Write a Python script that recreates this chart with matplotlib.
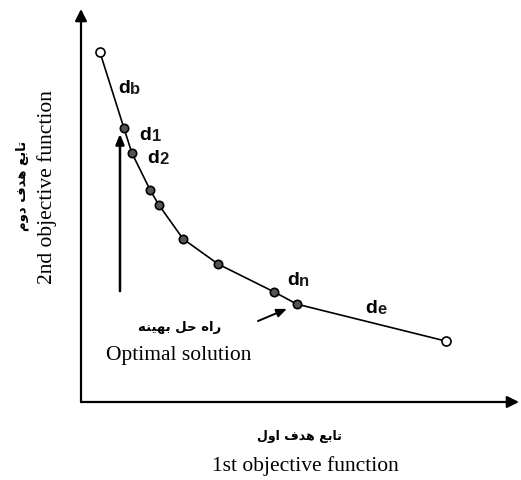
import numpy as np
import matplotlib
matplotlib.use("Agg")
import matplotlib.pyplot as plt

# pareto front points (1st objective, 2nd objective)
obj1 = [0.43, 0.98, 1.16, 1.58, 1.78, 2.33, 3.13, 4.41, 4.93, 8.33]
obj2 = [8.91, 6.97, 6.34, 5.39, 5.01, 4.15, 3.51, 2.80, 2.49, 1.55]
hollow = [0, 9]  # first and last points are open circles

# point labels: main letter, subscript, position
lab_sub = ["b", "1", "2", "n", "e"]
lab_x = [0.84, 1.34, 1.52, 4.70, 6.50]
lab_y = [7.9, 6.7, 6.1, 3.0, 2.3]

# texts
ylab_en = "2nd objective function"
xlab_en = "1st objective function"
opt_en = "Optimal solution"

# hand shaped arabic presentation forms (matplotlib does no shaping), visual order
def vis(s):
    return s[::-1]

ylab_fa_v = vis("\uFE97\uFE8E\uFE91\uFECA \uFEEB\uFEAA\uFED1 \uFEA9\uFEED\uFEE1")
xlab_fa_v = vis("\uFE97\uFE8E\uFE91\uFECA \uFEEB\uFEAA\uFED1 \uFE8D\uFEED\uFEDD")
opt_fa_v = vis("\uFEAD\uFE8D\uFEE9 \uFEA3\uFEDE \uFE91\uFEEC\uFEF4\uFEE8\uFEEA")

W, H = 521, 481
fig = plt.figure(figsize=(W/100, H/100), dpi=100)
ax = fig.add_axes([81/W, (H-403)/H, 438/W, 393/H])
ax.set_xlim(0, 10)
ax.set_ylim(0, 10)
ax.axis("off")

# axes with arrows
for tip in [(1, 0), (0, 1)]:
    ax.annotate("", xy=tip, xytext=(0, 0), xycoords="axes fraction",
                arrowprops=dict(arrowstyle="-|>,head_length=0.7,head_width=0.35", lw=1.6, color="k",
                                shrinkA=0, shrinkB=0), annotation_clip=False)

# curve
ax.plot(obj1, obj2, color="k", lw=1.2, zorder=2)
filled = [i for i in range(len(obj1)) if i not in hollow]
ax.plot([obj1[i] for i in filled], [obj2[i] for i in filled], ls="none", marker="o",
        ms=6, mfc="#555555", mec="k", mew=1.2, zorder=3)
ax.plot([obj1[i] for i in hollow], [obj2[i] for i in hollow], ls="none", marker="o",
        ms=6.5, mfc="white", mec="k", mew=1.2, zorder=3)

# labels d_x
for s, x, y in zip(lab_sub, lab_x, lab_y):
    t = ax.text(x, y, "d", fontsize=14, fontweight="bold", family="Liberation Sans",
                ha="left", va="baseline")
    ax.annotate(s, xy=(1, 0), xycoords=t, fontsize=12, fontweight="bold",
                family="Liberation Sans", ha="left", va="bottom", color="#1a1a1a")

# optimal solution arrows
ax.annotate("", xy=(0.89, 6.82), xytext=(0.89, 2.82),
            arrowprops=dict(arrowstyle="-|>,head_length=0.6,head_width=0.25", lw=1.8, color="k",
                            shrinkA=0, shrinkB=0))
ax.annotate("", xy=(4.70, 2.37), xytext=(4.04, 2.06),
            arrowprops=dict(arrowstyle="-|>,head_length=0.6,head_width=0.25", lw=1.4, color="k",
                            shrinkA=0, shrinkB=0))

ax.text(2.26, 1.93, opt_fa_v, fontsize=9.5, fontweight="bold", family="DejaVu Sans",
        ha="center", va="center")
ax.text(2.24, 1.22, opt_en, fontsize=15.5, family="Liberation Serif", ha="center", va="center")

# axis labels
fig.text(22/W, 1-186/H, ylab_fa_v, fontsize=9.5, fontweight="bold", family="DejaVu Sans",
         rotation=90, ha="center", va="center")
fig.text(47/W, 1-187/H, ylab_en, fontsize=15.5, family="Liberation Serif",
         rotation=90, ha="center", va="center")
fig.text(299/W, 1-437/H, xlab_fa_v, fontsize=9, fontweight="bold", family="DejaVu Sans",
         ha="center", va="center")
fig.text(305/W, 1-466/H, xlab_en, fontsize=15.5, family="Liberation Serif",
         ha="center", va="center")

fig.savefig("out.png", dpi=100)
